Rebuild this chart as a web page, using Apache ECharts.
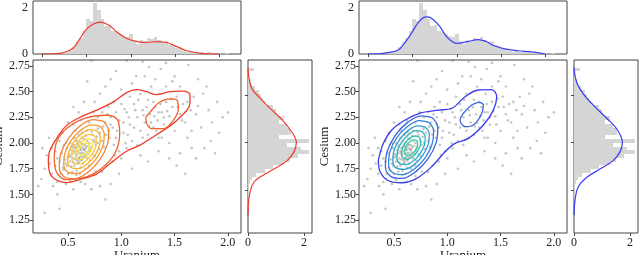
<!DOCTYPE html>
<html>
<head>
<meta charset="utf-8">
<script src="https://cdn.jsdelivr.net/npm/echarts/dist/echarts.min.js"></script>
<style>
html, body { margin: 0; padding: 0; background: #fff; }
#chart { width: 640px; height: 255px; }
</style>
</head>
<body>
<div id="chart"></div>
<script>
// scatter samples [uranium, cesium], same data in both panels
var points = [
  [0.62,1.93],[0.60,1.90],[0.64,1.95],[0.58,1.88],[0.66,1.98],[0.55,1.85],[0.70,2.00],[0.52,1.82],[0.63,1.87],[0.61,2.01],
  [0.57,1.95],[0.67,1.91],[0.59,1.80],[0.72,1.96],[0.54,1.90],[0.65,2.04],[0.50,1.86],[0.68,1.85],[0.56,1.78],[0.74,2.03],
  [0.60,1.97],[0.62,1.83],[0.48,1.80],[0.77,2.06],[0.58,2.02],[0.66,1.88],[0.53,1.93],[0.70,1.92],[0.63,1.99],[0.57,1.84],
  [0.45,1.76],[0.80,2.10],[0.61,1.86],[0.69,1.97],[0.55,1.98],[0.64,1.80],[0.51,1.89],[0.73,1.89],[0.59,1.92],[0.67,2.07],
  [0.47,1.84],[0.76,1.98],[0.62,1.76],[0.56,2.05],[0.71,1.83],[0.60,2.08],[0.44,1.90],[0.82,2.02],[0.65,1.93],[0.53,1.77],
  [0.79,1.94],[0.58,1.73],[0.68,2.12],[0.49,1.95],[0.75,1.87],[0.63,2.10],[0.52,2.00],[0.86,2.08],[0.42,1.82],[0.70,1.78],
  [0.61,1.70],[0.78,2.14],[0.54,1.72],[0.66,1.75],[0.57,2.12],[0.84,1.96],[0.46,1.74],[0.73,2.08],[0.40,1.85],[0.88,2.12],
  [0.50,1.70],[0.62,1.96],[0.60,1.85],[0.64,1.90],[0.59,1.99],[0.66,1.94],[0.56,1.92],[0.69,1.89],[0.63,1.84],[0.58,1.96],
  [0.92,2.15],[0.95,2.05],[0.98,2.22],[1.02,2.10],[1.05,2.30],[1.08,2.18],[1.10,2.02],[1.12,2.38],[1.15,2.25],[1.18,2.12],
  [1.20,2.32],[1.22,2.20],[1.25,2.42],[1.27,2.28],[1.30,2.15],[1.32,2.35],[1.34,2.22],[1.36,2.48],[1.38,2.30],[1.40,2.18],
  [1.42,2.40],[1.45,2.26],[1.48,2.35],[1.50,2.12],[1.52,2.45],[1.55,2.28],[1.58,2.38],[1.60,2.20],[1.28,2.55],[1.18,2.48],
  [1.08,2.45],[1.00,2.38],[0.95,2.30],[0.90,2.25],[0.88,2.35],[0.85,2.20],[1.35,2.05],[1.25,2.08],[1.45,2.00],[1.15,1.98],
  [1.05,1.95],[0.98,1.92],[1.32,2.62],[1.10,2.58],[1.42,2.55],[1.22,2.65],[0.82,2.30],[0.78,2.25],[1.65,2.32],[1.62,2.05],
  [1.70,2.28],[1.75,2.15],[1.68,2.45],[1.30,2.40],[1.35,2.30],[1.28,2.20],[1.40,2.25],[1.24,2.35],[1.33,2.12],[1.46,2.18],
  [1.38,2.05],[1.20,2.05],[1.12,2.15],[1.02,2.20],[0.96,2.12],[0.93,1.98],[1.06,2.08],[0.89,2.05],
  [0.72,2.80],[1.05,2.80],[1.20,2.79],[1.42,2.78],[1.63,2.76],[0.95,2.70],[1.37,2.72],[0.68,2.60],[0.85,2.55],[1.50,2.65],
  [1.80,2.55],[1.90,2.40],[1.85,2.20],[1.95,2.25],[2.00,2.30],[1.78,1.95],[1.88,1.90],[1.70,1.85],[1.55,1.90],[1.60,1.70],
  [1.45,1.85],[1.25,1.82],[1.10,1.75],[0.98,1.70],[0.90,1.60],[0.80,1.58],[0.72,1.55],[0.55,1.55],[0.48,1.60],[0.40,1.62],
  [0.35,1.70],[0.30,1.88],[0.28,1.75],[0.25,1.65],[0.22,1.58],[0.35,1.95],[0.32,2.05],[0.45,2.10],[0.50,2.20],[0.60,2.30],
  [0.65,2.40],[0.55,2.35],[0.75,2.40],[0.48,2.00],[0.38,1.78],[0.40,1.50],[0.42,1.36],[0.28,1.32],[0.85,1.45],[0.62,1.62],
  [0.70,1.68],[0.82,1.72],[0.92,1.82],[1.00,1.85],[0.36,1.58],
  [0.54,1.96],[0.61,1.94],[0.65,1.86],[0.59,1.83],[0.68,2.02],[0.71,1.94],[0.57,1.90],[0.63,2.05],[0.52,1.87],[0.75,2.01],
  [0.64,1.98],[0.60,1.81],[0.67,1.96],[0.55,1.81],[0.62,1.90],[0.72,2.11],[0.49,1.78],[0.78,2.00],[0.58,1.69],[0.83,2.16],
  [0.90,2.18],[0.87,2.28],[0.93,2.40],[1.03,2.33],[1.07,2.25],[1.13,2.32],[1.16,2.42],[1.21,2.27],[1.26,2.16],[1.31,2.26],
  [1.37,2.38],[1.43,2.31],[1.47,2.43],[1.53,2.35],[1.57,2.22],[1.62,2.40],[1.66,2.12],[1.72,2.36],[1.82,2.32],[1.77,2.48],
  [1.14,2.65],[1.26,2.74],[1.48,2.60],[1.00,2.52],[0.90,2.62],[0.80,2.48],[1.55,2.55],[1.72,2.62],[1.92,2.10],[1.84,2.02],
  [1.66,1.95],[1.52,1.78],[1.35,1.92],[1.18,1.88],[1.04,2.00],[0.94,1.88],[0.86,1.78],[0.76,1.72],[0.66,1.60],[0.52,1.64],
  [0.43,1.70],[0.38,1.92],[0.42,2.02],[0.46,1.98],[0.55,2.18],[0.70,2.20],[0.74,2.30],[0.62,2.22],[0.33,1.80],[0.26,1.95]
];

var xTicks = [0.5, 1.0, 1.5, 2.0];
var yTicks = [1.25, 1.5, 1.75, 2.0, 2.25, 2.5, 2.75];
var topTicks = [0, 0.5, 1.0, 1.5, 2.0];
var sideTicks = [1.5, 2.0, 2.5];
var densTicks = [0, 2];

// marginal histograms: [bin centre, density]
var histUranium = [
  [0.24,0.05],[0.28,0.08],[0.32,0.15],[0.36,0.3],[0.40,0.5],[0.44,0.7],[0.48,1.0],[0.52,1.5],[0.56,1.45],[0.60,2.2],
  [0.64,1.9],[0.68,1.5],[0.72,1.2],[0.76,1.25],[0.80,1.0],[0.84,0.95],[0.88,0.85],[0.92,0.8],[0.96,0.75],[1.00,0.85],
  [1.04,0.55],[1.08,0.45],[1.12,0.6],[1.16,0.55],[1.20,0.7],[1.24,0.65],[1.28,0.75],[1.32,0.6],[1.36,0.5],[1.40,0.55],
  [1.44,0.4],[1.48,0.35],[1.52,0.25],[1.56,0.2],[1.60,0.15],[1.64,0.1],[1.68,0.12],[1.72,0.1],[1.76,0.08],[1.80,0.1],
  [1.84,0.05],[1.88,0.1],[1.92,0.03],[1.96,0.02],[2.00,0.05],[2.04,0.02],[2.08,0.03],[2.12,0.02]
];
var histCesium = [
  [2.78,0.2],[2.70,0.05],[2.66,0.1],[2.62,0.15],[2.58,0.25],[2.54,0.4],[2.50,0.45],[2.46,0.55],[2.42,0.6],[2.38,0.9],
  [2.34,1.0],[2.30,1.05],[2.26,1.3],[2.22,1.1],[2.18,1.4],[2.14,1.5],[2.10,1.55],[2.06,1.1],[2.02,2.2],[1.98,1.4],
  [1.94,1.9],[1.90,2.2],[1.86,1.8],[1.82,1.5],[1.78,1.3],[1.74,0.9],[1.70,0.6],[1.66,0.3],[1.62,0.15],[1.58,0.08],
  [1.54,0.05],[1.50,0.03],[1.46,0.03],[1.42,0.02],[1.34,0.02]
];
var binHalf = 0.02;

// marginal kde curves
var kdeUraniumRed = [[0,0],[0.12,0.01],[0.24,0.06],[0.35,0.25],[0.43,0.68],[0.50,1.07],[0.58,1.30],[0.66,1.38],[0.75,1.26],
  [0.84,0.97],[0.95,0.68],[1.07,0.54],[1.18,0.50],[1.29,0.54],[1.40,0.50],[1.52,0.32],[1.63,0.14],[1.78,0.03],[1.9,0.005],[2.0,0]];
var kdeUraniumBlue = [[0,0],[0.12,0.01],[0.225,0.06],[0.34,0.17],[0.41,0.46],[0.49,0.90],[0.56,1.33],[0.64,1.60],[0.67,1.61],
  [0.73,1.51],[0.81,1.19],[0.88,0.78],[0.96,0.51],[1.01,0.46],[1.12,0.54],[1.24,0.62],[1.33,0.54],[1.42,0.36],[1.54,0.22],
  [1.69,0.14],[1.84,0.09],[2.0,0]];
var kdeCesiumRed = [[0,2.80],[0.04,2.68],[0.15,2.57],[0.45,2.47],[0.81,2.36],[1.17,2.26],[1.53,2.13],[1.73,2.0],[1.64,1.90],
  [1.40,1.81],[0.93,1.72],[0.51,1.65],[0.21,1.58],[0.07,1.47],[0.02,1.37],[0,1.23]];
var kdeCesiumBlue = [[0,2.80],[0.1,2.64],[0.33,2.52],[0.69,2.40],[1.17,2.26],[1.52,2.15],[1.73,2.0],[1.64,1.90],[1.40,1.81],
  [0.93,1.72],[0.45,1.63],[0.15,1.53],[0.04,1.40],[0,1.23]];

// contour lines, outermost first
var redOuter = [[0.315,1.834],[0.33,1.705],[0.39,1.64],[0.486,1.615],[0.613,1.645],[0.77,1.70],[0.894,1.80],[1.05,1.92],
  [1.176,1.98],[1.33,2.08],[1.52,2.22],[1.645,2.39],[1.645,2.47],[1.58,2.505],[1.457,2.50],[1.33,2.47],[1.238,2.50],
  [1.145,2.52],[1.05,2.49],[0.926,2.40],[0.77,2.32],[0.613,2.25],[0.486,2.17],[0.39,2.04],[0.33,1.93],[0.315,1.834]];
var redMode2 = [[1.238,2.19],[1.285,2.14],[1.395,2.14],[1.489,2.22],[1.536,2.34],[1.52,2.42],[1.457,2.43],[1.35,2.39],
  [1.27,2.30],[1.23,2.24],[1.238,2.19]];
var redRing2 = [[0.37,1.87],[0.40,2.03],[0.51,2.16],[0.67,2.245],[0.86,2.27],[0.965,2.225],[0.985,2.09],[0.94,1.90],
  [0.81,1.75],[0.64,1.66],[0.48,1.645],[0.39,1.72],[0.37,1.87]];
var redRing3 = [[0.833,2.211],[0.735,2.227],[0.615,2.167],[0.504,2.046],[0.431,1.896],[0.418,1.759],[0.467,1.669],
  [0.565,1.653],[0.685,1.713],[0.796,1.834],[0.869,1.984],[0.882,2.121],[0.833,2.211]];
var redRing4 = [[0.801,2.163],[0.721,2.177],[0.622,2.127],[0.531,2.027],[0.471,1.903],[0.460,1.790],[0.499,1.717],
  [0.579,1.703],[0.678,1.753],[0.769,1.853],[0.829,1.977],[0.840,2.090],[0.801,2.163]];
var redRing5 = [[0.771,2.119],[0.707,2.130],[0.627,2.090],[0.554,2.010],[0.506,1.911],[0.497,1.820],[0.529,1.761],
  [0.593,1.750],[0.673,1.790],[0.746,1.870],[0.794,1.969],[0.803,2.060],[0.771,2.119]];
var redRing6 = [[0.742,2.075],[0.693,2.084],[0.633,2.054],[0.577,1.993],[0.541,1.918],[0.535,1.849],[0.558,1.805],
  [0.607,1.796],[0.667,1.826],[0.723,1.887],[0.759,1.962],[0.765,2.031],[0.742,2.075]];
var redRing7 = [[0.715,2.036],[0.681,2.041],[0.639,2.019],[0.600,1.976],[0.574,1.924],[0.569,1.875],[0.585,1.844],
  [0.619,1.839],[0.661,1.861],[0.700,1.904],[0.726,1.956],[0.731,2.005],[0.715,2.036]];
var redRing8 = [[0.688,1.996],[0.667,2.000],[0.642,1.987],[0.619,1.962],[0.604,1.931],[0.602,1.903],[0.612,1.884],
  [0.633,1.880],[0.658,1.893],[0.681,1.918],[0.696,1.949],[0.698,1.977],[0.688,1.996]];

var blueOuter = [[0.353,1.834],[0.369,1.72],[0.447,1.633],[0.572,1.613],[0.713,1.656],[0.854,1.77],[0.979,1.915],
  [1.073,1.997],[1.198,2.045],[1.339,2.175],[1.433,2.32],[1.464,2.45],[1.417,2.52],[1.292,2.516],[1.167,2.45],
  [1.042,2.338],[0.917,2.32],[0.76,2.295],[0.604,2.224],[0.479,2.127],[0.40,1.997],[0.353,1.834]];
var blueMode2 = [[1.129,2.192],[1.167,2.159],[1.245,2.175],[1.317,2.273],[1.339,2.37],[1.298,2.396],[1.229,2.37],
  [1.151,2.289],[1.12,2.224],[1.129,2.192]];
var blueRing2 = [[0.859,2.247],[0.756,2.265],[0.628,2.201],[0.510,2.073],[0.434,1.914],[0.419,1.768],[0.471,1.673],
  [0.574,1.655],[0.702,1.719],[0.820,1.847],[0.896,2.006],[0.911,2.152],[0.859,2.247]];
var blueRing3 = [[0.827,2.202],[0.738,2.218],[0.628,2.163],[0.526,2.052],[0.461,1.915],[0.449,1.789],[0.493,1.708],
  [0.582,1.692],[0.692,1.747],[0.794,1.858],[0.859,1.995],[0.871,2.121],[0.827,2.202]];
var blueRing4 = [[0.795,2.155],[0.723,2.167],[0.634,2.123],[0.552,2.033],[0.499,1.923],[0.489,1.821],[0.525,1.755],
  [0.597,1.743],[0.686,1.787],[0.768,1.877],[0.821,1.987],[0.831,2.089],[0.795,2.155]];
var blueRing5 = [[0.765,2.111],[0.709,2.120],[0.640,2.086],[0.576,2.016],[0.535,1.930],[0.527,1.851],[0.555,1.799],
  [0.611,1.790],[0.680,1.824],[0.744,1.894],[0.785,1.980],[0.793,2.059],[0.765,2.111]];
var blueRing6 = [[0.732,2.061],[0.694,2.068],[0.646,2.044],[0.603,1.997],[0.575,1.938],[0.569,1.884],[0.588,1.849],
  [0.626,1.842],[0.674,1.866],[0.717,1.913],[0.745,1.972],[0.751,2.026],[0.732,2.061]];
var blueRing7 = [[0.709,2.027],[0.683,2.031],[0.651,2.015],[0.621,1.983],[0.602,1.943],[0.599,1.907],[0.611,1.883],
  [0.637,1.879],[0.669,1.895],[0.699,1.927],[0.718,1.967],[0.721,2.003],[0.709,2.027]];

var redContours = [redOuter, redRing2, redMode2, redRing3, redRing4, redRing5, redRing6, redRing7, redRing8];
var redColors = ['#ef3d2a', '#f2602c', '#f2602c', '#f5802e', '#f89a31', '#fab234', '#fcc837', '#fddb3a', '#feea3d'];
var blueContours = [blueOuter, blueRing2, blueMode2, blueRing3, blueRing4, blueRing5, blueRing6, blueRing7];
var blueColors = ['#3a3cf0', '#3a62e4', '#3a62e4', '#3482da', '#2f9ed0', '#2bb4c2', '#2ac4b2', '#32d0a2'];

var FONT = "'Liberation Serif', 'DejaVu Serif', serif";
var AXIS = '#444';

var chart = echarts.init(document.getElementById('chart'));

var grids = [], xAxes = [], yAxes = [], series = [];

function tickCfg(vals) {
  return { show: true, inside: false, length: 3, customValues: vals, lineStyle: { color: AXIS, width: 1 } };
}
function labelCfg(vals, fmt, margin) {
  return { show: true, customValues: vals, formatter: fmt, fontFamily: FONT, fontSize: 12, color: '#222', margin: margin };
}
function box(left, top, width, height) {
  return {
    left: left, top: top, width: width, height: height,
    outerBoundsMode: 'none', containLabel: false,
    show: true, borderColor: AXIS, borderWidth: 1, backgroundColor: 'transparent'
  };
}

function histRect(horizontal) {
  return function (params, api) {
    var c = api.value(0), h = api.value(1);
    var p0, p1;
    if (horizontal) {
      p0 = api.coord([0, c + binHalf]);
      p1 = api.coord([h, c - binHalf]);
    } else {
      p0 = api.coord([c - binHalf, h]);
      p1 = api.coord([c + binHalf, 0]);
    }
    var x0 = Math.round(p0[0]), y0 = Math.round(p0[1]);
    var x1 = Math.round(p1[0]), y1 = Math.round(p1[1]);
    return {
      type: 'rect',
      shape: { x: x0, y: y0, width: x1 - x0, height: y1 - y0 },
      style: { fill: '#d5d5d5' }
    };
  };
}

function addPanel(off, contours, colors, kdeTop, kdeSide, kdeColor) {
  var g = grids.length;
  grids.push(box(33 + off, 60, 208, 173));
  grids.push(box(33 + off, 1, 208, 53));
  grids.push(box(248 + off, 60, 64, 173));

  // main
  xAxes.push({
    gridIndex: g, type: 'value', min: 0.171, max: 2.124,
    name: 'Uranium', nameLocation: 'middle', nameGap: 16, nameMoveOverlap: false,
    nameTextStyle: { fontFamily: FONT, fontSize: 13, color: '#222' },
    axisLine: { show: false }, splitLine: { show: false },
    axisTick: tickCfg(xTicks),
    axisLabel: labelCfg(xTicks, function (v) { return v.toFixed(1); }, 4)
  });
  yAxes.push({
    gridIndex: g, type: 'value', min: 1.124, max: 2.808,
    name: 'Cesium', nameLocation: 'middle', nameGap: 28, nameMoveOverlap: false,
    nameTextStyle: { fontFamily: FONT, fontSize: 13, color: '#222' },
    axisLine: { show: false }, splitLine: { show: false },
    axisTick: tickCfg(yTicks),
    axisLabel: labelCfg(yTicks, function (v) { return v.toFixed(2); }, 3)
  });
  // top marginal
  xAxes.push({
    gridIndex: g + 1, type: 'value', min: -0.10, max: 2.24,
    axisLine: { show: false }, splitLine: { show: false },
    axisTick: tickCfg(topTicks), axisLabel: { show: false }
  });
  yAxes.push({
    gridIndex: g + 1, type: 'value', min: 0, max: 2.3,
    axisLine: { show: false }, splitLine: { show: false },
    axisTick: { show: false },
    axisLabel: labelCfg(densTicks, function (v) { return String(v); }, 5)
  });
  // side marginal
  xAxes.push({
    gridIndex: g + 2, type: 'value', min: 0, max: 2.29,
    axisLine: { show: false }, splitLine: { show: false },
    axisTick: tickCfg(densTicks),
    axisLabel: labelCfg(densTicks, function (v) { return String(v); }, 4)
  });
  yAxes.push({
    gridIndex: g + 2, type: 'value', min: 1.04, max: 2.88,
    axisLine: { show: false }, splitLine: { show: false },
    axisTick: tickCfg(sideTicks), axisLabel: { show: false }
  });

  series.push({
    type: 'scatter', xAxisIndex: g, yAxisIndex: g, data: points,
    symbol: 'circle', symbolSize: 2.6, silent: true, z: 2,
    itemStyle: { color: 'rgba(95,95,95,0.45)' }
  });
  contours.forEach(function (ring, i) {
    series.push({
      type: 'line', xAxisIndex: g, yAxisIndex: g, data: ring,
      smooth: 0.35, symbol: 'none', silent: true, z: 3,
      lineStyle: { color: colors[i], width: 1.3 }
    });
  });
  series.push({
    type: 'custom', xAxisIndex: g + 1, yAxisIndex: g + 1, data: histUranium,
    renderItem: histRect(false), encode: { x: 0, y: 1 }, silent: true, z: 1
  });
  series.push({
    type: 'line', xAxisIndex: g + 1, yAxisIndex: g + 1, data: kdeTop,
    smooth: 0.4, symbol: 'none', silent: true, z: 3,
    lineStyle: { color: kdeColor, width: 1.2 }
  });
  series.push({
    type: 'custom', xAxisIndex: g + 2, yAxisIndex: g + 2, data: histCesium,
    renderItem: histRect(true), encode: { x: 1, y: 0 }, silent: true, z: 1
  });
  series.push({
    type: 'line', xAxisIndex: g + 2, yAxisIndex: g + 2, data: kdeSide,
    smooth: 0.4, symbol: 'none', silent: true, z: 3,
    lineStyle: { color: kdeColor, width: 1.2 }
  });
}

addPanel(0, redContours, redColors, kdeUraniumRed, kdeCesiumRed, '#ef3b2c');
addPanel(326, blueContours, blueColors, kdeUraniumBlue, kdeCesiumBlue, '#3a3cf0');

chart.setOption({
  animation: false,
  backgroundColor: '#fff',
  grid: grids,
  xAxis: xAxes,
  yAxis: yAxes,
  series: series
});
</script>
</body>
</html>
